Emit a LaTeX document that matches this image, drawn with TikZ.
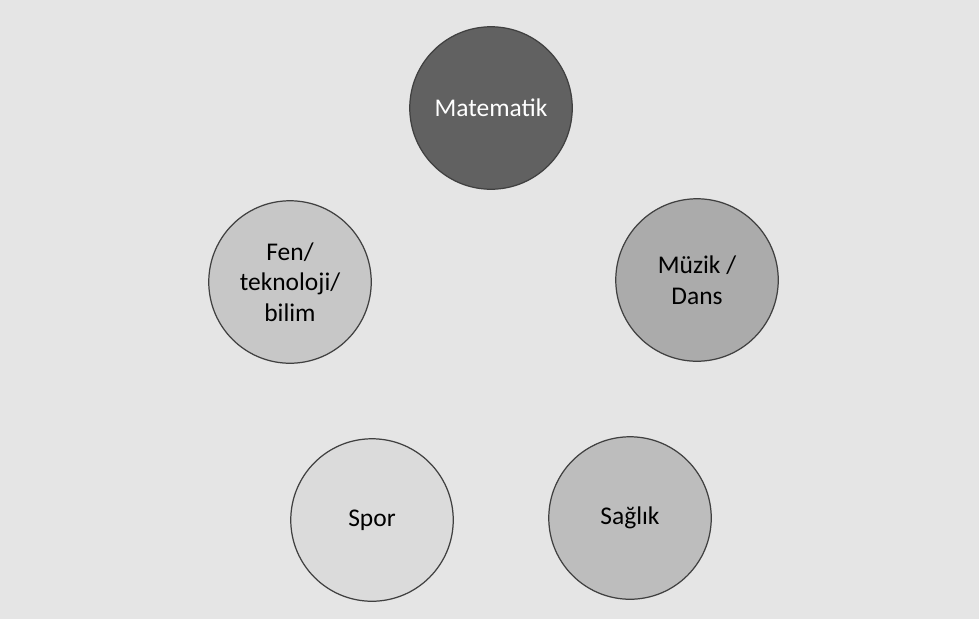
\documentclass[tikz,border=0pt]{standalone}
\usepackage{fontspec}
\setmainfont{Carlito}
\usepackage{xcolor}
\usepackage{tikz}
\usetikzlibrary{positioning}

\definecolor{paper}{gray}{0.90}
\tikzset{
  topic/.style={circle, draw=black!75, line width=0.7pt, minimum size=3.25cm,
    align=center, font=\fontsize{14.5}{17.5}\selectfont, inner sep=0pt},
}

\begin{document}
\begin{tikzpicture}[x=0.02cm, y=-0.02cm]
  \fill[paper] (0,0) rectangle (979,619);
  \node[topic, fill=black!62, text=white] (mat) at (491,108) {Matematik};
  \node[topic, fill=black!22] (fen) at (290,282) {Fen/\\teknoloji/\\bilim};
  \node[topic, fill=black!33] (muz) at (697,280) {Müzik /\\Dans};
  \node[topic, fill=black!14] (spor) at (372,520) {Spor};
  \node[topic, fill=black!26] (sag) at (630,518) {Sağlık};
\end{tikzpicture}
\end{document}
